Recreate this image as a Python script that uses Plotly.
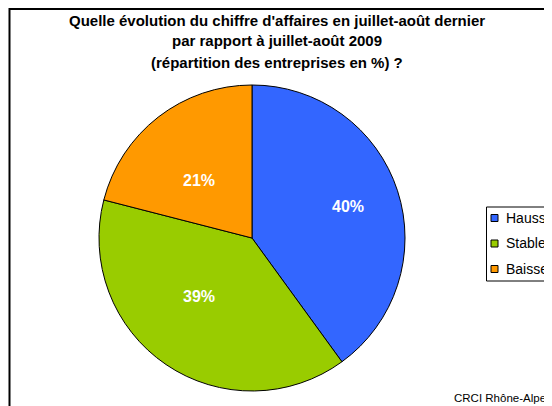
import math
import plotly.graph_objects as go

labels = ["Hausse", "Stable", "Baisse"]
values = [40, 39, 21]
colors = ["#3366FF", "#99CC00", "#FF9900"]
title_lines = [
    "Quelle évolution du chiffre d'affaires en juillet-août dernier",
    "par rapport à juillet-août 2009",
    "(répartition des entreprises en %) ?",
]
source = "CRCI Rhône-Alpe"

# label placement style (fraction of radius, angular nudge in degrees)
label_radius = [0.66, 0.52, 0.51]
label_nudge = [0, 8, -5]

# the page body has an 8px margin; figure fills the rest of the 552x406 window
OFF = 8
WIN_W, WIN_H = 552, 406
W, H = WIN_W - OFF, WIN_H - OFF
FONT = "Arial, 'Liberation Sans', sans-serif"

def px(x):
    return (x - OFF) / W

def py(y):
    return (WIN_H - y) / H

CX, CY, R = 252, 238, 153

fig = go.Figure(go.Pie(
    labels=labels,
    values=values,
    marker=dict(colors=colors, line=dict(color="black", width=1)),
    sort=False,
    direction="clockwise",
    rotation=0,
    textinfo="none",
    hoverinfo="label+percent",
    showlegend=False,
    domain=dict(x=[px(CX - R), px(CX + R)], y=[py(CY + R), py(CY - R)]),
))

shapes = []
annotations = []

# data labels at slice bisectors
total = sum(values)
cum = 0
for v, f, nd in zip(values, label_radius, label_nudge):
    mid = (cum + v / 2) / total * 360 + nd
    cum += v
    a = math.radians(mid)
    lx = CX + f * R * math.sin(a)
    ly = CY - f * R * math.cos(a)
    annotations.append(dict(text="<b>%d%%</b>" % round(v / total * 100),
                            xref="paper", yref="paper", x=px(lx), y=py(ly),
                            xanchor="center", yanchor="middle", showarrow=False,
                            font=dict(family=FONT, size=16, color="white")))

# outer frame
shapes.append(dict(type="rect", xref="paper", yref="paper",
                   x0=px(9.5), x1=1.2, y0=-0.2, y1=py(9),
                   line=dict(color="black", width=2), layer="above"))

# title lines
for i, t in enumerate(title_lines):
    annotations.append(dict(text="<b>" + t + "</b>", xref="paper", yref="paper",
                            x=px(277), y=py(20 + 21 * i), xanchor="center", yanchor="middle",
                            showarrow=False, font=dict(family=FONT, size=15, color="black")))

# legend box
shapes.append(dict(type="rect", xref="paper", yref="paper",
                   x0=px(486.5), x1=1.2, y0=py(281), y1=py(207),
                   line=dict(color="black", width=1), fillcolor="white", layer="above"))
leg_y = [218, 243.5, 269]
for lab, col, yy in zip(labels, colors, leg_y):
    shapes.append(dict(type="rect", xref="paper", yref="paper",
                       x0=px(491), x1=px(498), y0=py(yy + 3.5), y1=py(yy - 3.5),
                       line=dict(color="black", width=1), fillcolor=col, layer="above"))
    annotations.append(dict(text=lab, xref="paper", yref="paper",
                            x=px(504), y=py(yy), xanchor="left", yanchor="middle",
                            showarrow=False, font=dict(family=FONT, size=14, color="black")))

# source
annotations.append(dict(text=source, xref="paper", yref="paper",
                        x=px(452), y=py(398), xanchor="left", yanchor="middle",
                        showarrow=False, font=dict(family=FONT, size=11.5, color="black")))

fig.update_layout(
    width=W, height=H,
    margin=dict(l=0, r=0, t=0, b=0),
    paper_bgcolor="white",
    plot_bgcolor="white",
    shapes=shapes,
    annotations=annotations,
    showlegend=False,
)

fig.write_html("out.html", config={"displayModeBar": False})
